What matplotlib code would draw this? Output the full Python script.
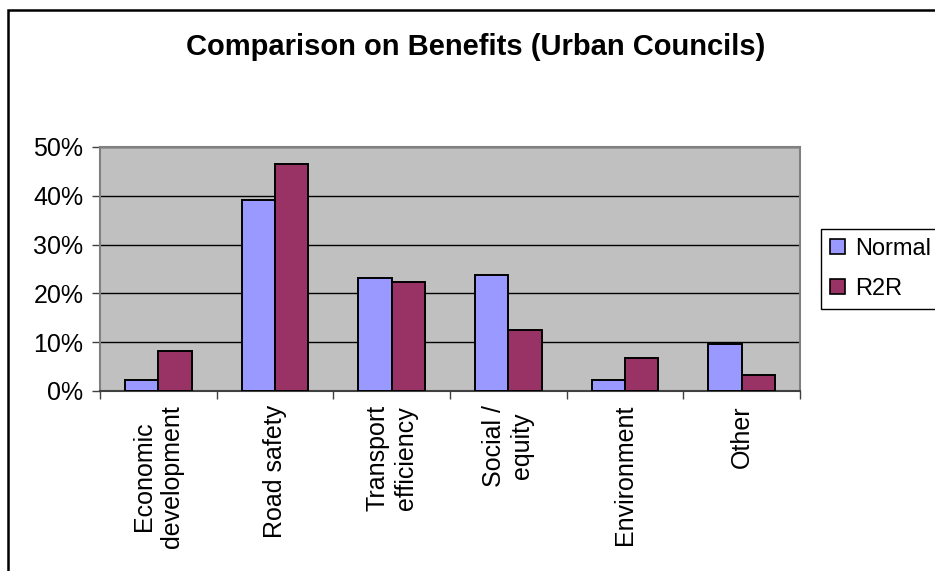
import matplotlib
matplotlib.use('Agg')
import matplotlib.pyplot as plt
import numpy as np
from matplotlib.patches import Patch, Rectangle
from matplotlib.ticker import FuncFormatter, FixedLocator

categories = ['Economic\ndevelopment', 'Road safety', 'Transport\nefficiency',
              'Social /\nequity', 'Environment', 'Other']
normal = [2.2, 39.1, 23.2, 23.8, 2.2, 9.6]
r2r = [8.2, 46.6, 22.3, 12.6, 6.7, 3.3]
series_names = ['Normal', 'R2R']
yticks = [0, 10, 20, 30, 40, 50]

plt.rcParams['font.family'] = ['Liberation Sans', 'DejaVu Sans']

W, H = 935, 571
fig = plt.figure(figsize=(W / 100, H / 100), dpi=100)
fig.patch.set_facecolor('white')

# outer chart frame (runs off the right and bottom edges)
fig.patches.append(Rectangle((8 / W, -0.1), 1.2, 1 - 10 / H + 0.1, transform=fig.transFigure,
                             fill=False, edgecolor='black', linewidth=1.8, zorder=0))

ax = fig.add_axes([100 / W, 1 - 391 / H, 700 / W, 244 / H])
ax.set_facecolor('#c0c0c0')

x = np.arange(len(categories))
w = 1 / 3.5
ax.bar(x - w / 2, normal, w, color='#9999ff', edgecolor='black', linewidth=1.4, zorder=3)
ax.bar(x + w / 2, r2r, w, color='#993366', edgecolor='black', linewidth=1.4, zorder=3)

ax.set_xlim(-0.5, len(categories) - 0.5)
ax.set_ylim(0, 50)
ax.set_yticks(yticks)
ax.yaxis.set_major_formatter(FuncFormatter(lambda v, p: '%d%%' % v))
ax.yaxis.grid(True, color='black', linewidth=1.0, zorder=1)
ax.set_axisbelow(True)

ax.set_xticks(x)
ax.set_xticklabels(categories, rotation=90, ha='center', va='top', multialignment='center')
ax.xaxis.set_minor_locator(FixedLocator(np.arange(-0.5, len(categories), 1.0)))
ax.tick_params(axis='x', which='major', length=0, pad=10, labelsize=18)
ax.tick_params(axis='x', which='minor', length=6, width=1, color='#404040', direction='out')
ax.tick_params(axis='y', length=6, width=1, color='#404040', direction='out', pad=6, labelsize=18)

for side in ['left', 'right', 'top', 'bottom']:
    ax.spines[side].set_color('#808080')
    ax.spines[side].set_linewidth(1.5)
ax.spines['bottom'].set_color('#404040')

fig.text(0.509, 1 - 47 / H, 'Comparison on Benefits (Urban Councils)', ha='center', va='center',
         fontsize=21, fontweight='bold')

handles = [Patch(facecolor='#9999ff', edgecolor='black', linewidth=1.2),
           Patch(facecolor='#993366', edgecolor='black', linewidth=1.2)]
leg = fig.legend(handles, series_names, loc='upper left', bbox_to_anchor=(821 / W, 1 - 229 / H),
                 bbox_transform=fig.transFigure, fontsize=17, frameon=True, fancybox=False,
                 edgecolor='black', framealpha=1, borderaxespad=0, borderpad=0.38,
                 handlelength=0.62, handleheight=0.62, handletextpad=0.45, labelspacing=0.75)
leg.get_frame().set_linewidth(1.0)

fig.savefig('out.png', dpi=100)
